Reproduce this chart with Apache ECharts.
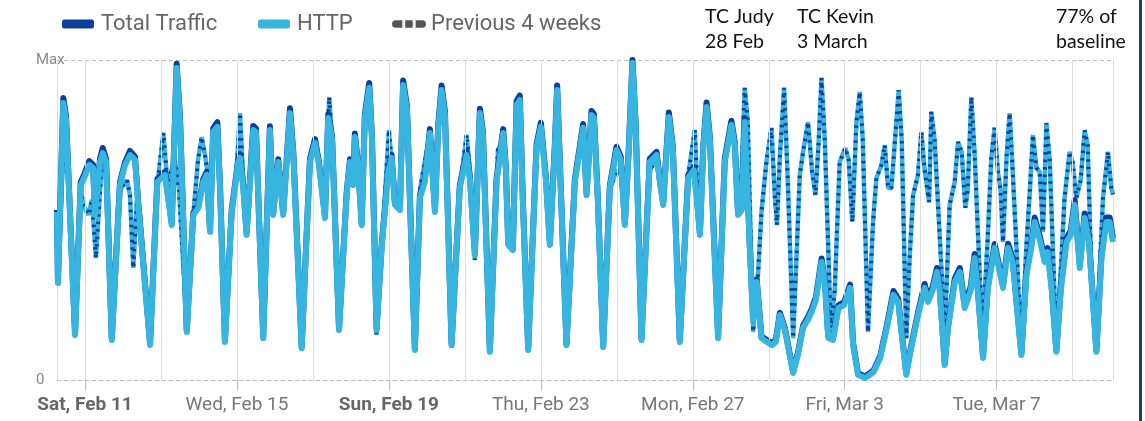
<!DOCTYPE html>
<html><head><meta charset="utf-8">
<script src="https://cdn.jsdelivr.net/npm/echarts@6/dist/echarts.min.js"></script>
<style>html,body{margin:0;padding:0;background:#fff}#c{width:1145px;height:421px}</style>
</head><body><div id="c"></div><script>
// x values: hours since 2023-02-10 00:00 UTC ; y values: % of Max
const tickLabels = ['Sat, Feb 11','Wed, Feb 15','Sun, Feb 19','Thu, Feb 23','Mon, Feb 27','Fri, Mar 3','Tue, Mar 7'];
const tickDates = [[1,11],[1,15],[1,19],[1,23],[1,27],[2,3],[2,7]];
const boldLabels = ['Sat, Feb 11','Sun, Feb 19'];
const gridDates = [[1,11],[1,13],[1,15],[1,17],[1,19],[1,21],[1,23],[1,25],[1,27],[2,1],[2,3],[2,5],[2,7],[2,9]];
const rangeHours = [6.3, 673.5];
const yLabels = ['0','Max'];
const legendNames = ['Total Traffic','HTTP','Previous 4 weeks'];

const totalTraffic = [[6.3,53.1],[6.9,30.9],[10.3,88.1],[12.0,82.5],[17.7,14.6],[21.3,61.9],[23.4,64.1],[26.7,68.4],[29.1,67.3],[30.3,52.2],[33.5,69.2],[35.2,72.5],[37.3,69.1],[40.9,13.0],[46.1,61.8],[49.3,68.1],[52.4,71.6],[55.6,69.8],[57.5,56.3],[65.1,11.4],[69.7,62.8],[74.5,65.0],[78.8,49.0],[81.9,98.8],[84.0,82.4],[88.3,15.5],[92.4,52.2],[95.6,54.5],[98.7,62.8],[100.9,65.1],[103.0,46.9],[105.0,78.6],[107.6,80.6],[109.3,60.8],[112.4,12.4],[116.7,53.2],[118.7,60.8],[120.8,69.0],[121.9,70.6],[124.0,60.8],[126.1,45.9],[130.3,79.4],[132.0,78.6],[136.6,13.6],[140.8,79.3],[142.9,52.2],[146.1,69.0],[149.2,52.2],[153.5,84.9],[155.6,71.3],[160.9,10.5],[166.1,69.0],[169.3,75.3],[171.8,68.1],[175.6,51.2],[177.7,83.1],[180.1,76.0],[184.5,16.1],[189.3,58.5],[191.4,69.0],[193.5,61.8],[194.5,77.0],[196.4,68.1],[198.8,49.0],[200.8,83.0],[203.6,92.8],[205.3,76.0],[208.2,16.1],[211.4,41.9],[215.6,66.0],[217.7,70.4],[219.8,55.4],[223.0,53.8],[225.0,93.6],[227.4,85.6],[232.4,9.9],[235.6,57.6],[238.7,62.8],[241.9,78.4],[245.1,53.1],[247.1,79.3],[249.3,92.0],[251.4,84.0],[255.6,11.4],[260.8,60.8],[265.1,71.4],[267.2,63.4],[270.3,39.7],[273.5,84.8],[275.4,77.7],[279.8,9.3],[284.0,62.8],[288.2,78.4],[289.9,66.6],[291.4,42.8],[294.3,41.2],[296.7,87.2],[298.7,88.9],[300.6,57.0],[304.0,9.9],[309.3,73.6],[312.0,80.4],[315.2,63.4],[317.7,42.8],[320.8,72.9],[322.3,92.0],[324.6,60.1],[328.2,11.4],[333.5,62.8],[336.6,72.9],[338.7,80.0],[340.9,58.5],[344.0,84.1],[345.5,83.1],[348.0,57.0],[351.4,10.8],[355.6,60.8],[359.8,72.9],[362.5,69.8],[365.1,49.0],[367.6,72.9],[369.9,100],[372.0,79.2],[375.6,13.0],[380.8,69.1],[385.1,71.3],[387.2,62.8],[389.3,55.4],[392.9,83.6],[395.4,72.9],[399.8,12.4],[405.1,64.0],[408.7,66.6],[410.6,57.0],[412.5,45.9],[414.6,72.9],[416.7,86.7],[418.8,76.0],[424.0,13.6],[428.2,69.1],[432.4,81.0],[434.5,74.5],[436.6,52.2],[438.9,53.8],[440.8,81.8],[444.1,41.3],[446.1,19.4],[448.4,31.3],[451.4,13.6],[454.8,12.5],[458.0,11.5],[460.5,12.5],[463.0,21.0],[466.2,16.2],[471.4,2.7],[474.4,8.4],[477.7,17.0],[480.7,19.6],[483.1,22.2],[485.8,25.9],[489.4,38.0],[491.5,30.6],[493.6,13.7],[496.6,13.1],[500.0,23.3],[503.6,24.3],[507.4,29.8],[509.3,11.5],[512.4,2.1],[516.9,1.1],[522.2,3.0],[526.4,7.5],[530.6,17.0],[534.8,27.8],[537.8,25.4],[539.7,16.2],[542.9,2.1],[545.1,8.4],[550.3,21.1],[554.5,30.0],[556.6,25.4],[559.6,29.2],[562.3,35.0],[564.0,29.0],[567.2,5.2],[569.1,16.2],[573.5,31.6],[576.7,35.0],[579.8,23.4],[583.6,29.2],[586.1,39.4],[588.0,29.0],[591.4,7.4],[594.3,29.0],[598.7,42.5],[600.6,38.0],[604.0,29.7],[607.2,42.6],[610.1,38.0],[615.6,8.3],[618.8,33.8],[621.9,42.5],[624.0,50.8],[627.2,45.0],[630.3,38.0],[632.2,41.2],[634.8,29.0],[637.7,9.3],[640.5,29.0],[644.1,44.3],[646.8,46.6],[649.3,56.2],[652.5,36.0],[655.6,52.0],[658.2,45.0],[663.0,9.3],[666.2,39.2],[669.3,50.8],[671.4,50.8],[673.5,44.3]];

const http = [[6.3,52.5],[6.9,30.3],[10.3,86.6],[12.0,81.3],[17.7,14.1],[21.3,60.9],[23.4,63.1],[26.7,67.2],[29.1,66.3],[30.3,51.6],[33.5,68.1],[35.2,70.9],[37.3,68.1],[40.9,12.5],[46.1,60.9],[49.3,67.2],[52.4,70.3],[55.6,68.8],[57.5,55.6],[65.1,10.9],[69.7,61.9],[74.5,64.1],[78.8,48.4],[81.9,97.5],[84.0,81.3],[88.3,15.0],[92.4,51.6],[95.6,53.8],[98.7,61.9],[100.9,64.1],[103.0,46.3],[105.0,77.5],[107.6,79.1],[109.3,60.0],[112.4,11.9],[116.7,52.5],[118.7,60.0],[120.8,68.1],[121.9,69.4],[124.0,60.0],[126.1,45.3],[130.3,78.1],[132.0,77.5],[136.6,13.1],[140.8,78.1],[142.9,51.6],[146.1,68.1],[149.2,51.6],[153.5,83.4],[155.6,70.3],[160.9,10.0],[166.1,68.1],[169.3,74.1],[171.8,67.2],[175.6,50.6],[177.7,81.9],[180.1,75.0],[184.5,15.6],[189.3,57.8],[191.4,68.1],[193.5,60.9],[194.5,75.9],[196.4,67.2],[198.8,48.4],[200.8,81.9],[203.6,91.3],[205.3,75.0],[208.2,15.6],[211.4,41.3],[215.6,65.0],[217.7,69.4],[219.8,54.7],[223.0,53.1],[225.0,92.2],[227.4,84.4],[232.4,9.4],[235.6,56.9],[238.7,61.9],[241.9,77.2],[245.1,52.5],[247.1,78.1],[249.3,90.6],[251.4,82.8],[255.6,10.9],[260.8,60.0],[265.1,70.3],[267.2,62.5],[270.3,39.1],[273.5,83.4],[275.4,76.6],[279.8,8.8],[284.0,61.9],[288.2,77.2],[289.9,65.6],[291.4,42.2],[294.3,40.6],[296.7,85.9],[298.7,87.5],[300.6,56.3],[304.0,9.4],[309.3,72.5],[312.0,79.1],[315.2,62.5],[317.7,42.2],[320.8,71.9],[322.3,90.6],[324.6,59.4],[328.2,10.9],[333.5,61.9],[336.6,71.9],[338.7,78.8],[340.9,57.8],[344.0,82.8],[345.5,81.9],[348.0,56.3],[351.4,10.3],[355.6,60.0],[359.8,71.9],[362.5,68.8],[365.1,48.4],[367.6,71.9],[369.9,99.1],[372.0,78.1],[375.6,12.5],[380.8,68.1],[385.1,70.3],[387.2,61.9],[389.3,54.7],[392.9,82.2],[395.4,71.9],[399.8,11.9],[405.1,63.1],[408.7,65.6],[410.6,56.3],[412.5,45.3],[414.6,71.9],[416.7,85.3],[418.8,75.0],[424.0,13.1],[428.2,68.1],[432.4,79.7],[434.5,73.4],[436.6,51.6],[438.9,53.1],[440.8,80.6],[444.1,40.6],[446.1,18.8],[448.4,30.6],[451.4,13.1],[454.8,11.9],[458.0,10.9],[460.5,11.9],[463.0,20.3],[466.2,15.6],[471.4,2.2],[474.4,7.8],[477.7,16.3],[480.7,18.8],[483.1,21.3],[485.8,25.0],[489.4,36.9],[491.5,29.7],[493.6,13.1],[496.6,12.5],[500.0,22.5],[503.6,23.4],[507.4,28.8],[509.3,10.9],[512.4,1.6],[516.9,0.6],[522.2,2.5],[526.4,6.9],[530.6,16.3],[534.8,26.6],[537.8,24.4],[539.7,15.6],[542.9,1.6],[545.1,7.8],[550.3,20.3],[554.5,28.8],[556.6,24.4],[559.6,28.1],[562.3,33.8],[564.0,28.1],[567.2,4.7],[569.1,15.6],[573.5,30.6],[576.7,33.8],[579.8,22.5],[583.6,28.1],[586.1,38.1],[588.0,28.1],[591.4,6.9],[594.3,28.1],[598.7,41.3],[600.6,36.9],[604.0,28.8],[607.2,41.3],[610.1,36.9],[615.6,7.8],[618.8,32.8],[621.9,41.3],[624.0,49.4],[627.2,43.8],[630.3,36.9],[632.2,40.0],[634.8,28.1],[637.7,8.8],[640.5,28.1],[644.1,43.1],[646.8,45.3],[649.3,54.7],[652.5,35.0],[655.6,50.6],[658.2,43.8],[663.0,8.8],[666.2,38.1],[669.3,49.4],[671.4,49.4],[673.5,43.1]];

const previous4Weeks = [[6.3,52.5],[7.1,32.8],[9.9,67.2],[10.4,85.9],[12.0,79.7],[17.7,14.1],[21.3,59.4],[22.9,54.7],[26.1,51.6],[28.4,56.3],[30.9,38.1],[34.1,64.1],[35.4,68.8],[37.3,65.6],[40.9,14.1],[46.1,59.4],[50.5,62.5],[52.4,57.8],[54.5,35.0],[56.8,56.3],[58.7,51.6],[65.1,12.5],[69.7,60.9],[73.5,77.2],[76.0,61.9],[77.7,64.1],[80.8,68.8],[83.4,59.4],[88.4,15.6],[92.4,51.6],[95.4,68.8],[97.7,75.9],[99.8,70.3],[101.7,64.1],[103.0,48.4],[105.0,77.5],[107.6,79.1],[109.3,56.3],[112.4,18.1],[116.7,52.5],[119.4,62.5],[121.9,83.4],[124.0,62.5],[126.1,48.4],[130.3,78.1],[132.0,76.6],[135.6,24.4],[137.1,18.8],[140.8,76.6],[142.9,56.3],[146.1,68.8],[149.2,54.7],[153.5,82.8],[155.6,70.3],[160.9,10.9],[166.1,67.2],[169.3,73.4],[172.4,65.6],[175.6,53.1],[178.3,88.4],[180.1,75.0],[184.5,16.3],[189.3,59.4],[191.4,68.8],[193.5,62.5],[194.5,75.0],[196.4,65.6],[198.8,50.0],[200.8,81.3],[203.6,90.0],[205.3,75.0],[208.2,14.1],[211.4,40.6],[216.0,78.1],[217.9,67.2],[219.8,54.7],[223.0,56.3],[225.0,90.6],[227.4,82.8],[232.4,10.0],[235.6,59.4],[239.4,70.3],[241.9,76.6],[245.1,56.3],[247.1,76.6],[249.3,89.1],[251.4,81.3],[255.6,10.0],[260.8,59.4],[265.1,76.6],[267.2,65.6],[270.3,37.5],[273.5,82.8],[275.4,75.0],[279.8,10.9],[284.9,71.9],[288.2,75.0],[289.9,65.6],[292.4,43.8],[294.9,46.9],[296.9,84.4],[298.7,85.9],[300.6,56.3],[304.0,10.9],[309.3,71.9],[311.4,79.7],[315.2,64.1],[317.7,45.3],[320.8,71.9],[322.3,89.1],[324.6,59.4],[328.2,12.5],[333.5,62.5],[338.7,78.1],[340.9,59.4],[344.0,81.9],[345.5,81.3],[348.0,56.3],[351.4,11.9],[355.6,59.4],[359.8,65.6],[362.5,64.1],[365.1,51.6],[367.6,70.3],[369.9,96.9],[372.0,76.6],[375.6,14.1],[380.8,65.6],[385.1,68.8],[387.2,60.9],[389.3,56.3],[392.9,81.3],[395.4,71.9],[399.8,13.1],[405.1,64.1],[409.3,78.1],[410.6,62.5],[412.5,48.4],[414.6,71.9],[416.7,85.9],[418.8,75.0],[424.0,14.1],[428.2,67.2],[432.4,78.8],[434.5,71.9],[436.6,51.6],[438.9,65.6],[440.8,91.3],[442.7,81.3],[446.1,15.0],[449.3,33.8],[451.4,52.5],[454.5,68.1],[457.7,78.8],[459.8,57.8],[461.2,48.4],[462.9,68.8],[465.7,91.3],[468.0,62.5],[471.4,13.1],[473.7,40.6],[475.6,64.1],[477.7,71.3],[480.8,80.6],[483.4,65.0],[485.5,57.8],[487.6,75.0],[489.3,94.4],[491.4,75.0],[495.2,16.3],[497.7,28.1],[500.8,68.1],[504.4,72.5],[506.5,68.8],[508.8,49.4],[511.4,80.6],[513.5,90.0],[515.4,75.0],[518.7,15.0],[521.9,49.4],[524.0,63.1],[527.2,67.2],[529.3,73.4],[531.4,60.0],[533.5,60.0],[536.6,80.6],[538.1,90.6],[540.0,75.0],[542.9,13.1],[545.1,39.1],[547.2,57.8],[550.3,64.1],[552.4,77.5],[554.5,65.6],[557.3,55.6],[558.7,83.8],[560.8,75.0],[567.2,15.0],[570.3,54.7],[573.5,61.9],[575.6,74.4],[577.9,71.3],[580.2,53.8],[581.7,59.4],[584.0,88.4],[586.1,70.3],[590.9,14.1],[594.3,43.8],[596.6,69.4],[598.7,78.8],[600.8,65.0],[602.5,59.4],[604.0,43.1],[606.3,70.3],[608.2,83.4],[610.1,65.6],[615.6,10.0],[618.7,41.3],[620.8,57.8],[622.9,76.6],[625.1,66.3],[627.2,65.0],[629.3,46.3],[631.4,80.3],[633.5,68.8],[637.7,10.9],[640.8,36.9],[642.9,56.9],[646.1,71.3],[648.0,68.1],[650.3,56.9],[653.1,62.5],[655.6,78.1],[657.5,73.4],[660.0,31.3],[662.9,8.8],[665.1,34.4],[667.2,56.9],[670.3,71.3],[672.4,60.0],[673.5,58.0]];

const annotations = [
  {text: 'TC Judy\n28 Feb', left: 705},
  {text: 'TC Kevin\n3 March', left: 797},
  {text: '77% of\nbaseline', left: 1056}
];

const BASE = Date.UTC(2023, 1, 10);
const dateHours = d => (Date.UTC(2023, d[0], d[1]) - BASE) / 3600e3;
const tickHours = tickDates.map(dateHours);

const DARK = '#0e3f9e', LIGHT = '#35b5df';
const legendBase = {top: 8, itemHeight: 9, textStyle: {fontSize: 22, color: '#666', fontFamily: 'Roboto'}};
const chart = echarts.init(document.getElementById('c'), null, {renderer: 'canvas'});
chart.setOption({
  animation: false,
  backgroundColor: '#fff',
  textStyle: {fontFamily: 'Roboto, sans-serif'},
  legend: [
    Object.assign({}, legendBase, {left: 57, itemWidth: 32, data: [{name: legendNames[0], icon: 'roundRect'}],
      textStyle: Object.assign({}, legendBase.textStyle, {padding: [0, 0, 0, 2]})}),
    Object.assign({}, legendBase, {left: 253, itemWidth: 32, data: [{name: legendNames[1], icon: 'roundRect'}],
      textStyle: Object.assign({}, legendBase.textStyle, {padding: [0, 0, 0, 2]})}),
    Object.assign({}, legendBase, {left: 387, itemWidth: 34, data: [{name: legendNames[2],
      icon: 'path://M2,0h7v8h-7a2,2 0 0 1 0,-8zM12,0h8v8h-8zM23,0h7a2,2 0 0 1 0,8h-7z', itemStyle: {color: '#555'}}],
      textStyle: Object.assign({}, legendBase.textStyle, {padding: [0, 0, 0, 0]})})
  ],
  grid: {left: 57, right: 32, top: 60, bottom: 41, containLabel: false},
  xAxis: {
    type: 'value', min: rangeHours[0], max: rangeHours[1],
    axisLine: {show: true, lineStyle: {color: '#bdbdbd', type: [4, 3], width: 1}},
    axisTick: {show: true, customValues: tickHours, length: 10, lineStyle: {color: '#bbb'}},
    splitLine: {show: false},
    axisLabel: {
      customValues: tickHours, margin: 16, fontSize: 19, color: '#777', fontFamily: 'Roboto',
      formatter: v => {
        const i = tickHours.indexOf(v);
        const t = i >= 0 ? tickLabels[i] : '';
        return boldLabels.includes(t) ? '{b|' + t + '}' : t;
      },
      rich: {b: {fontWeight: 'bold', fontSize: 19, color: '#666', fontFamily: 'Roboto'}}
    }
  },
  yAxis: [{
    type: 'value', min: 0, max: 100, interval: 100,
    axisLine: {show: true, lineStyle: {color: '#dcdcdc'}},
    axisTick: {show: false},
    splitLine: {show: true, lineStyle: {color: '#bdbdbd', type: [4, 3]}},
    axisLabel: {align: 'left', margin: 21, fontSize: 15, color: '#888', formatter: v => v === 100 ? yLabels[1] : yLabels[0]}
  }, {
    type: 'value', min: 0, max: 100, interval: 100, position: 'right',
    axisLine: {show: true, lineStyle: {color: '#dcdcdc'}},
    axisTick: {show: false}, axisLabel: {show: false}, splitLine: {show: false}
  }],
  series: [
    {type: 'line', name: 'grid', data: [], z: 1, silent: true,
     markLine: {silent: true, symbol: 'none', label: {show: false},
       lineStyle: {color: '#dcdcdc', type: 'solid', width: 1},
       data: gridDates.map(d => ({xAxis: dateHours(d)}))}},
    {type: 'line', name: 'Previous 4 weeks HTTP', data: previous4Weeks, showSymbol: false, symbol: 'none', z: 2,
     lineStyle: {color: LIGHT, width: 4.5}, itemStyle: {color: LIGHT}},
    {type: 'line', name: legendNames[2], data: previous4Weeks, showSymbol: false, symbol: 'none', z: 3,
     lineStyle: {color: DARK, width: 4, type: [2.5, 5]}, itemStyle: {color: DARK}},
    {type: 'line', name: legendNames[0], data: totalTraffic, showSymbol: false, symbol: 'none', z: 4,
     lineStyle: {color: DARK, width: 6, join: 'round'}, itemStyle: {color: DARK}},
    {type: 'line', name: legendNames[1], data: http, showSymbol: false, symbol: 'none', z: 5,
     lineStyle: {color: LIGHT, width: 6, join: 'round'}, itemStyle: {color: LIGHT}}
  ],
  graphic: annotations.map(a => ({
    type: 'text', left: a.left, top: 4,
    style: {text: a.text, fontSize: 19.5, lineHeight: 25, fill: '#111', fontFamily: 'Lato'}
  })).concat([{type: 'rect', left: 1139, top: 0, shape: {width: 3, height: 421}, style: {fill: '#1d3c78'}}])
});
</script></body></html>
